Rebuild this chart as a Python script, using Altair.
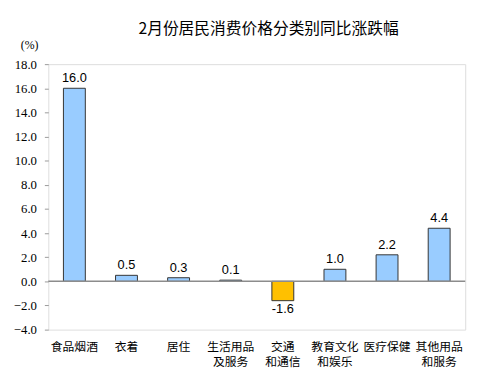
import altair as alt
import pandas as pd

categories = ["食品烟酒", "衣着", "居住", "生活用品\n及服务", "交通\n和通信", "教育文化\n和娱乐", "医疗保健", "其他用品\n和服务"]
values = [16.0, 0.5, 0.3, 0.1, -1.6, 1.0, 2.2, 4.4]
y_ticks = [-4.0, -2.0, 0.0, 2.0, 4.0, 6.0, 8.0, 10.0, 12.0, 14.0, 16.0, 18.0]

SERIF = "'Times New Roman', 'Liberation Serif', serif"

df = pd.DataFrame({"cat": categories, "val": values})
df["sign"] = ["neg" if v < 0 else "pos" for v in values]
df["lab"] = [f"{v:.1f}" for v in values]

x = alt.X("cat:N", sort=categories, title=None,
          scale=alt.Scale(paddingInner=0.58, paddingOuter=0.29),
          axis=alt.Axis(labelAngle=0, domain=False, ticks=False,
                        labelExpr="split(datum.label, '\\n')",
                        labelFont="Noto Sans CJK SC", labelFontSize=12,
                        labelColor="#000", labelPadding=12, labelLineHeight=16,
                        labelBaseline="top", labelOverlap=False))
yscale = alt.Scale(domain=[-4, 18], nice=False, zero=False)
yaxis = alt.Axis(values=y_ticks, format=".1f", grid=False, domain=False,
                 labelFont=SERIF, labelFontSize=13,
                 labelColor="#000", tickColor="#999", tickSize=4,
                 labelPadding=8, labelOverlap=False)
y = alt.Y("val:Q", title=None, scale=yscale, axis=yaxis)

base = alt.Chart(df)

bars = base.mark_bar(stroke="#333333", strokeWidth=1).encode(
    x=x, y=y,
    color=alt.Color("sign:N", scale=alt.Scale(domain=["pos", "neg"], range=["#99CCFF", "#FFC000"]), legend=None),
)

zero = alt.Chart(pd.DataFrame({"z": [0]})).mark_rule(color="#8c8c8c", strokeWidth=1.5).encode(
    y=alt.Y("z:Q", title=None, scale=yscale, axis=yaxis))

txt_pos = base.transform_filter("datum.val >= 0").mark_text(
    baseline="bottom", dy=-3, font="Liberation Sans", fontSize=13, color="#000").encode(
    x=x, y=y, text="lab:N")
txt_neg = base.transform_filter("datum.val < 0").mark_text(
    baseline="top", dy=3, font="Liberation Sans", fontSize=13, color="#000").encode(
    x=x, y=y, text="lab:N")

unit = alt.Chart(pd.DataFrame({"t": ["(%)"]})).mark_text(
    font=SERIF, fontSize=12, color="#000", align="center").encode(
    text="t:N", x=alt.value(-19), y=alt.value(-19))

chart = alt.layer(bars, zero, txt_pos, txt_neg, unit).properties(
    width=424, height=270,
    title=alt.TitleParams("2月份居民消费价格分类别同比涨跌幅", font="Noto Sans CJK SC",
                          fontSize=16, fontWeight="normal", color="#000",
                          anchor="middle", offset=3, dx=12),
    autosize=alt.AutoSizeParams(type="none"),
    padding={"left": 41, "top": 54, "right": 13, "bottom": 40},
).configure_view(stroke="#999999", strokeWidth=1.5).configure(background="white")

chart.save("out.html", embed_options={"renderer": "svg", "actions": False})
